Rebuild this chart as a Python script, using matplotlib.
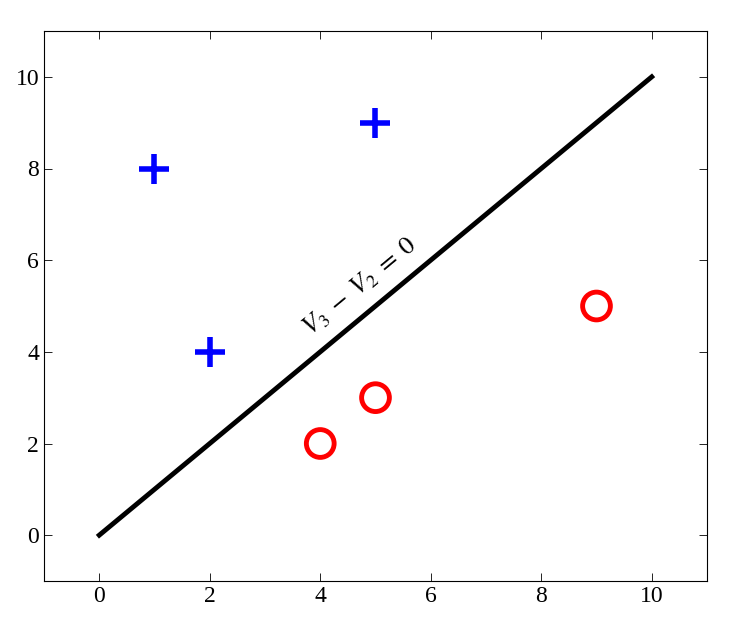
import matplotlib
matplotlib.use("Agg")
import matplotlib.pyplot as plt
import numpy as np

plus_x = [1, 2, 5]
plus_y = [8, 4, 9]
circ_x = [4, 5, 9]
circ_y = [2, 3, 5]
line_x = [0, 10]
line_y = [0, 10]
ticks = [0, 2, 4, 6, 8, 10]

plt.rcParams['font.family'] = ['Liberation Serif', 'DejaVu Serif']
plt.rcParams['mathtext.fontset'] = 'stix'
fig = plt.figure(figsize=(7.32, 6.28), dpi=100)
ax = fig.add_axes([44/732, 1-581/628, 663/732, 550/628])
ax.plot(line_x, line_y, color='black', lw=3.5)
ax.scatter(plus_x, plus_y, marker='+', s=450, color='blue', linewidths=4, zorder=3)
ax.scatter(circ_x, circ_y, marker='o', s=400, facecolors='none', edgecolors='red', linewidths=3.5, zorder=3)
ax.text(4.72, 5.42, r'$V_3\;-\;V_2\;=\;0$', rotation=39.7, rotation_mode='anchor',
        ha='center', va='center', fontsize=19)
ax.set_xlim(-1, 11)
ax.set_ylim(-1, 11)
ax.set_xticks(ticks)
ax.set_yticks(ticks)
ax.tick_params(direction='in', top=True, right=True, labelsize=17, length=6, width=0.6)
for s in ax.spines.values():
    s.set_linewidth(0.8)
fig.savefig('out.png', dpi=100)
